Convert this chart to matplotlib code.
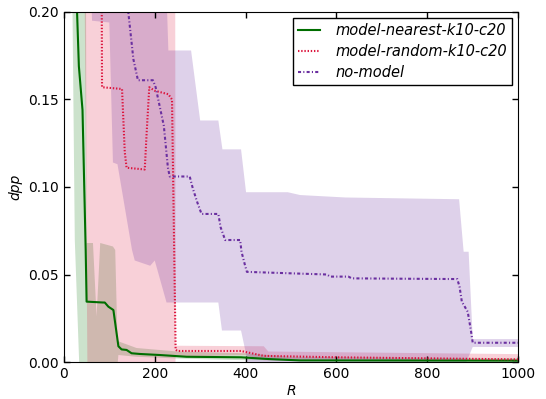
import numpy as np
import matplotlib
matplotlib.use('Agg')
import matplotlib.pyplot as plt

plt.rcParams['font.family'] = 'DejaVu Sans'
plt.rcParams['font.size'] = 10
plt.rcParams['xtick.direction'] = 'in'
plt.rcParams['ytick.direction'] = 'in'
plt.rcParams['xtick.top'] = True
plt.rcParams['ytick.right'] = True
plt.rcParams['lines.scale_dashes'] = False

# model-nearest-k10-c20
r_near = [10, 29, 33, 41, 48, 50, 86, 90, 98, 109, 120, 127, 138, 149, 167, 211, 270, 390, 450, 520, 1000]
near_mean = [0.40, 0.200, 0.169, 0.144, 0.064, 0.0345, 0.034, 0.034, 0.0316, 0.0297, 0.009, 0.0072,
             0.0069, 0.005, 0.0046, 0.004, 0.003, 0.0027, 0.0017, 0.0009, 0.0008]
r_near_hi = [10, 47, 50, 64, 72, 80, 108, 113, 118, 160, 250, 400, 500, 1000]
near_hi = [0.45, 0.40, 0.068, 0.068, 0.026, 0.068, 0.066, 0.064, 0.012, 0.008, 0.006, 0.005, 0.003, 0.002]
r_near_lo = [10, 19, 24, 35, 115, 120, 160, 250, 400, 1000]
near_lo = [0.40, 0.20, 0.07, -0.01, -0.01, 0.004, 0.003, 0.002, 0.001, 0.0]

# model-random-k10-c20
r_rand = [10, 82, 84, 128, 134, 138, 178, 182, 188, 200, 230, 238, 246, 250, 390, 440, 600, 1000]
rand_mean = [0.30, 0.30, 0.157, 0.156, 0.120, 0.111, 0.110, 0.130, 0.157, 0.155, 0.153, 0.150,
             0.007, 0.0063, 0.0063, 0.0035, 0.0027, 0.0015]
r_rand_hi = [10, 244, 246, 440, 450, 1000]
rand_hi = [0.45, 0.45, 0.0093, 0.009, 0.006, 0.0045]
r_rand_lo = [10, 46, 52, 244, 246, 400, 440, 1000]
rand_lo = [0.25, 0.20, -0.01, -0.01, 0.003, 0.004, 0.001, 0.0008]

# no-model
r_nomod = [10, 130, 143, 153, 163, 196, 202, 220, 229, 233, 277, 284, 294, 303, 340, 345, 355, 388,
           391, 399, 403, 520, 579, 586, 626, 634, 740, 866, 871, 876, 889, 896, 900, 1000]
nomod_mean = [0.35, 0.23, 0.197, 0.173, 0.161, 0.161, 0.157, 0.135, 0.111, 0.106, 0.106, 0.099, 0.091,
              0.0846, 0.0846, 0.077, 0.0697, 0.0697, 0.063, 0.055, 0.0515, 0.0505, 0.050, 0.0488,
              0.0488, 0.0478, 0.0476, 0.0474, 0.043, 0.0345, 0.0287, 0.018, 0.011, 0.011]
r_nomod_hi = [10, 226, 230, 280, 300, 340, 349, 390, 401, 493, 520, 620, 870, 880, 891, 900, 1000]
nomod_hi = [0.45, 0.21, 0.178, 0.178, 0.138, 0.138, 0.1215, 0.1215, 0.097, 0.097, 0.0954, 0.094,
            0.093, 0.063, 0.063, 0.0131, 0.0131]
r_nomod_lo = [10, 55, 62, 100, 108, 118, 150, 156, 190, 200, 226, 340, 348, 390, 399, 410, 870, 900, 1000]
nomod_lo = [0.25, 0.25, 0.195, 0.194, 0.114, 0.113, 0.064, 0.058, 0.055, 0.058, 0.034, 0.034,
            0.018, 0.018, 0.007, -0.01, -0.01, 0.0086, 0.0086]

c_near = '#006e00'
c_rand = '#dc143c'
c_nomod = '#6a2fa0'

fig = plt.figure(figsize=(5.46, 3.99), dpi=100)
ax = fig.add_axes([0.117, 0.0927, 0.832, 0.8773])

# bands
ax.fill(np.r_[r_near_hi, r_near_lo[::-1]], np.r_[near_hi, near_lo[::-1]],
        color=c_near, alpha=0.2, lw=0)
ax.fill(np.r_[r_rand_hi, r_rand_lo[::-1]], np.r_[rand_hi, rand_lo[::-1]],
        color=c_rand, alpha=0.2, lw=0)
ax.fill(np.r_[r_nomod_hi, r_nomod_lo[::-1]], np.r_[nomod_hi, nomod_lo[::-1]],
        color=c_nomod, alpha=0.22, lw=0)

# means
ax.plot(r_near, near_mean, color=c_near, lw=1.5, label='model-nearest-k10-c20')
ax.plot(r_rand, rand_mean, color=c_rand, lw=1.5, linestyle=(0, (1, 1.3)),
        label='model-random-k10-c20')
ax.plot(r_nomod, nomod_mean, color=c_nomod, lw=1.5, linestyle=(0, (2.2, 1.6, 0.8, 1.6)),
        label='no-model')

ax.set_xlim(0, 1000)
ax.set_ylim(0, 0.2)
ax.set_xticks([0, 200, 400, 600, 800, 1000])
ax.set_yticks([0.0, 0.05, 0.10, 0.15, 0.20])
ax.set_yticklabels(['0.00', '0.05', '0.10', '0.15', '0.20'])
ax.tick_params(length=4, width=1)
ax.set_xlabel('R', style='italic', labelpad=2)
ax.set_ylabel('dpp', style='italic', labelpad=4)

leg = ax.legend(loc='upper right', fancybox=False, framealpha=1, handlelength=1.5,
                prop={'style': 'italic', 'size': 10.5}, borderaxespad=0.4, borderpad=0.35,
                labelspacing=0.42, handletextpad=1.1)
leg.get_frame().set_edgecolor('black')
leg.get_frame().set_linewidth(1.0)

fig.savefig('out.png', dpi=100)
